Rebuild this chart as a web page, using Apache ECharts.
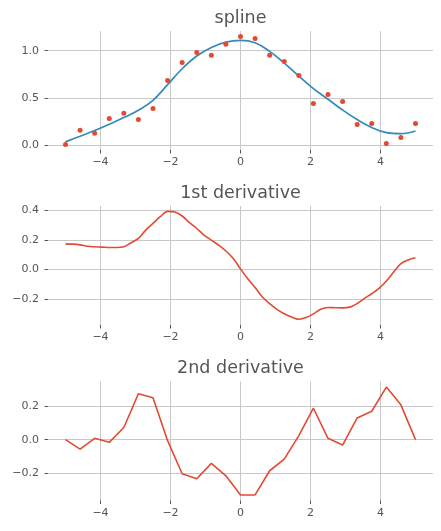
<!DOCTYPE html>
<html>
<head>
<meta charset="utf-8">
<script src="https://cdn.jsdelivr.net/npm/echarts@6/dist/echarts.min.js"></script>
<style>
  html, body { margin: 0; padding: 0; background: #fff; }
  #chart { width: 441px; height: 531px; }
</style>
</head>
<body>
<div id="chart"></div>
<script>
// sample positions (knots)
var xs = [-5, -4.583, -4.167, -3.75, -3.333, -2.917, -2.5, -2.083, -1.667, -1.25, -0.833, -0.417,
          0, 0.417, 0.833, 1.25, 1.667, 2.083, 2.5, 2.917, 3.333, 3.75, 4.167, 4.583, 5];
// noisy observations (red dots)
var obsY = [0.01, 0.16, 0.13, 0.285, 0.34, 0.275, 0.39, 0.687, 0.877, 0.982, 0.951, 1.067,
            1.151, 1.13, 0.951, 0.887, 0.739, 0.444, 0.539, 0.465, 0.222, 0.232, 0.021, 0.085, 0.232];
// fitted spline (blue line)
var splineY = [0.039, 0.098, 0.158, 0.225, 0.295, 0.372, 0.477, 0.642, 0.81, 0.944, 1.035, 1.091,
               1.109, 1.084, 0.993, 0.87, 0.733, 0.6, 0.488, 0.375, 0.274, 0.19, 0.137, 0.126, 0.154];
// first derivative, read at knots and half-way between them
var d1X = [-5, -4.792, -4.583, -4.375, -4.167, -3.958, -3.75, -3.542, -3.333, -3.125, -2.917, -2.708,
           -2.5, -2.292, -2.083, -1.875, -1.667, -1.458, -1.25, -1.042, -0.833, -0.625, -0.417, -0.208,
           0, 0.208, 0.417, 0.625, 0.833, 1.042, 1.25, 1.458, 1.667, 1.875, 2.083, 2.292,
           2.5, 2.708, 2.917, 3.125, 3.333, 3.542, 3.75, 3.958, 4.167, 4.375, 4.583, 4.792, 5];
var d1Y = [0.173, 0.171, 0.166, 0.157, 0.153, 0.151, 0.148, 0.148, 0.153, 0.18, 0.209, 0.265,
           0.31, 0.355, 0.391, 0.386, 0.36, 0.315, 0.276, 0.232, 0.198, 0.164, 0.125, 0.075,
           0.005, -0.061, -0.121, -0.184, -0.229, -0.267, -0.297, -0.319, -0.333, -0.322, -0.297, -0.266,
           -0.255, -0.256, -0.257, -0.252, -0.228, -0.193, -0.162, -0.126, -0.077, -0.016, 0.04, 0.065, 0.079];
// second derivative
var d2Y = [0.0, -0.056, 0.008, -0.016, 0.072, 0.273, 0.249, -0.006, -0.203, -0.233, -0.141, -0.215,
           -0.329, -0.329, -0.185, -0.116, 0.024, 0.187, 0.008, -0.032, 0.129, 0.169, 0.313, 0.207, 0.0];

var titles = ['spline', '1st derivative', '2nd derivative'];
var xTicks = [-4, -2, 0, 2, 4];
var yTicks = [[0, 0.5, 1.0], [-0.2, 0, 0.2, 0.4], [-0.2, 0, 0.2]];
var yRanges = [[-0.047, 1.208], [-0.372, 0.427], [-0.362, 0.346]];

var FONT = '"DejaVu Sans", sans-serif';
var TXT = '#555555';
var GRID = '#c8c8c8';
var RED = '#E24A33';
var BLUE = '#348ABD';

function pairs(xv, ys) {
  return xv.map(function (x, i) { return [x, ys[i]]; });
}
function fmt(d) {
  return function (v) {
    var s = Math.abs(v).toFixed(d);
    return (v < 0 ? '\u2212' : '') + s;
  };
}

var tops = [31, 206, 381.5];
var grids = [], xAxes = [], yAxes = [], titleOpts = [];
for (var i = 0; i < 3; i++) {
  grids.push({ left: 48, right: 8, top: tops[i], height: 119 });
  titleOpts.push({
    text: titles[i], left: 240.5, top: tops[i] - 22, textAlign: 'center', padding: 0,
    textStyle: { fontFamily: FONT, fontSize: 17.5, fontWeight: 'normal', color: TXT }
  });
  xAxes.push({
    type: 'value', gridIndex: i, min: -5.5, max: 5.5,
    axisLine: { show: false, onZero: false },
    axisTick: { show: true, length: 3.5, customValues: xTicks, lineStyle: { color: TXT, width: 1 } },
    axisLabel: { customValues: xTicks, formatter: fmt(0), color: TXT, fontSize: 11, fontFamily: FONT, margin: 7 },
    splitLine: { show: true, customValues: xTicks, lineStyle: { color: GRID, width: 1 } }
  });
  yAxes.push({
    type: 'value', gridIndex: i, min: yRanges[i][0], max: yRanges[i][1],
    axisLine: { show: false, onZero: false },
    axisTick: { show: true, length: 3.5, customValues: yTicks[i], lineStyle: { color: TXT, width: 1 } },
    axisLabel: { customValues: yTicks[i], formatter: fmt(1), color: TXT, fontSize: 11, fontFamily: FONT, margin: 9 },
    splitLine: { show: true, customValues: yTicks[i], lineStyle: { color: GRID, width: 1 } }
  });
}

var chart = echarts.init(document.getElementById('chart'), null, { renderer: 'canvas' });
chart.setOption({
  backgroundColor: '#ffffff',
  animation: false,
  title: titleOpts,
  grid: grids,
  xAxis: xAxes,
  yAxis: yAxes,
  series: [
    {
      name: 'spline', type: 'line', xAxisIndex: 0, yAxisIndex: 0,
      data: pairs(xs, splineY), smooth: 0.4, showSymbol: false,
      lineStyle: { color: BLUE, width: 1.7 }, z: 2
    },
    {
      name: 'data', type: 'scatter', xAxisIndex: 0, yAxisIndex: 0,
      data: pairs(xs, obsY), symbolSize: 5,
      itemStyle: { color: RED, opacity: 1 }, z: 3
    },
    {
      name: '1st derivative', type: 'line', xAxisIndex: 1, yAxisIndex: 1,
      data: pairs(d1X, d1Y), smooth: 0.35, showSymbol: false,
      lineStyle: { color: RED, width: 1.6 }
    },
    {
      name: '2nd derivative', type: 'line', xAxisIndex: 2, yAxisIndex: 2,
      data: pairs(xs, d2Y), showSymbol: false,
      lineStyle: { color: RED, width: 1.6 }
    }
  ]
});
window.onresize = function () { chart.resize(); };
</script>
</body>
</html>
